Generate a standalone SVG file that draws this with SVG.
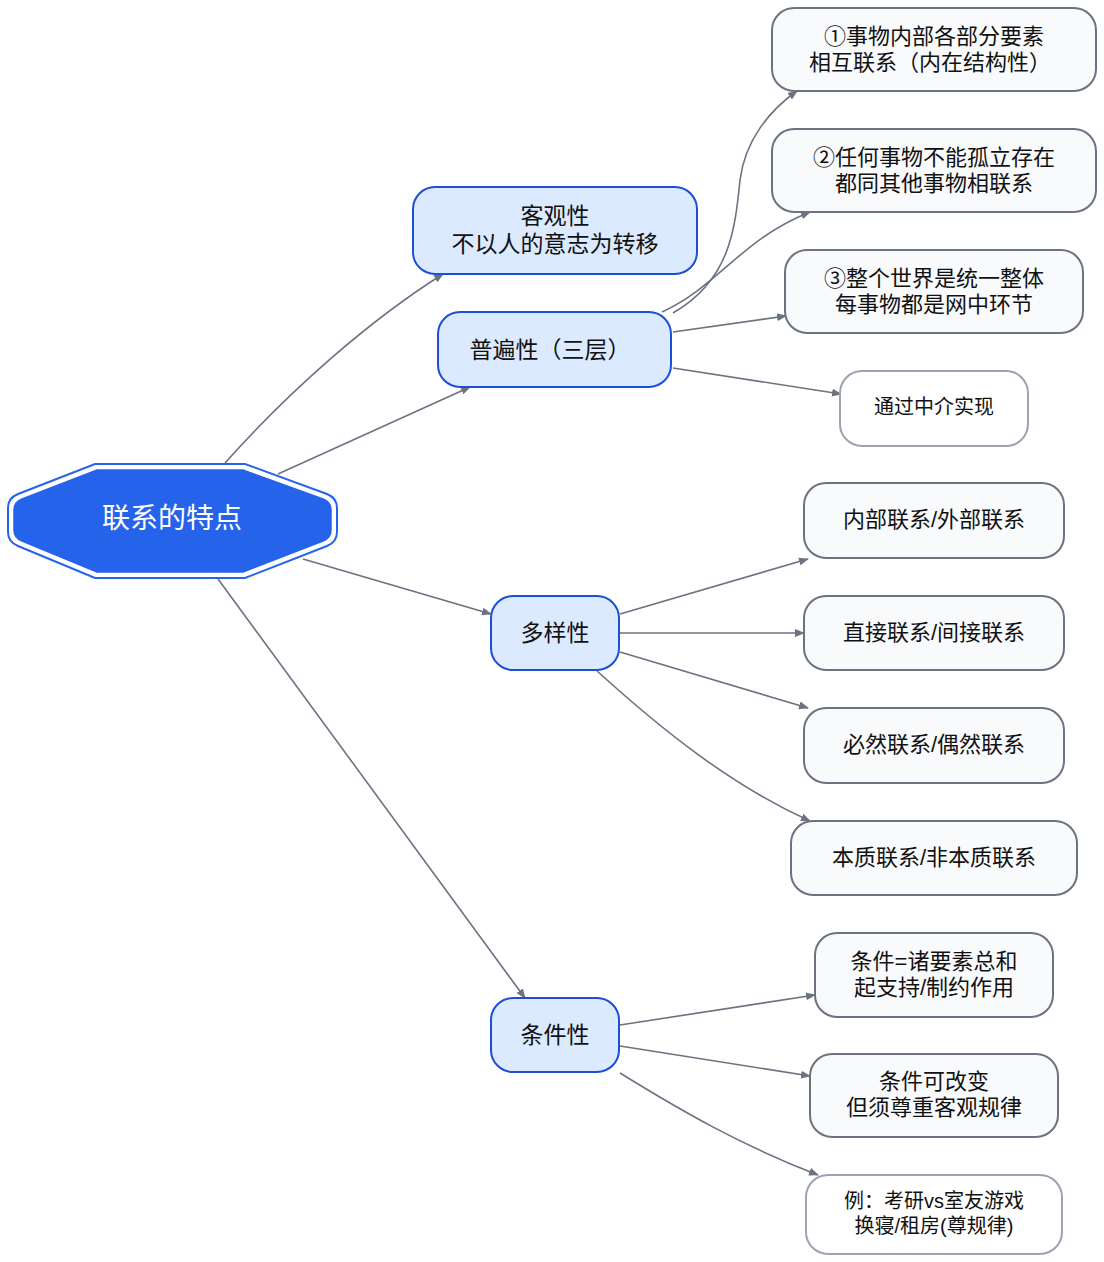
<svg xmlns="http://www.w3.org/2000/svg" width="1104" height="1262" viewBox="0 0 1104 1262">
<style>
text{font-family:"Liberation Sans","Noto Sans CJK SC",sans-serif;text-anchor:middle;fill:#111}
.mid rect{fill:#dbeafe;stroke:#1d4ed8;stroke-width:2}
.mid text{font-size:23px}
.leaf rect{fill:#f8fafc;stroke:#6b7280;stroke-width:2}
.leaf text{font-size:22px}
.lite rect{fill:#fff;stroke:#9ca3af;stroke-width:2}
.lite text{font-size:20px}
#edges path{fill:none;stroke:#6b7280;stroke-width:1.6;marker-end:url(#ar)}
</style>
<defs><marker id="ar" viewBox="0 0 10 10" refX="9" refY="5" markerWidth="10" markerHeight="10" markerUnits="userSpaceOnUse" orient="auto"><path d="M0,1 L10,5 L0,9 z" fill="#6b7280"/></marker></defs>
<g id="edges">
<path d="M225,463 C290,390 370,320 443,274"/>
<path d="M278,474 L470,387"/>
<path d="M303,559 L491,614"/>
<path d="M218,579 L525,998"/>
<path d="M673,313 C730,280 735,230 740,180 C745,140 770,110 797,91"/>
<path d="M662,312 C720,285 740,240 810,212"/>
<path d="M673,332 L786,316"/>
<path d="M673,368 L841,394"/>
<path d="M620,614 L808,559"/>
<path d="M620,633 L804,633"/>
<path d="M620,652 L808,708"/>
<path d="M597,671 C660,728 730,785 810,821"/>
<path d="M620,1025 L815,995"/>
<path d="M620,1046 L810,1076"/>
<path d="M620,1073 C680,1110 740,1145 818,1175"/>
</g>
<g id="root">
<path d="M8,508 Q8,498 18,494 L95,464 L245,464 L327,494 Q337,498 337,508 L337,532 Q337,542 327,546 L245,578 L95,578 L18,546 Q8,542 8,532 Z" fill="#fff" stroke="#2563eb" stroke-width="2"/>
<path d="M14,510 Q14,502 22,499 L97,470 L243,470 L323,499 Q331,502 331,510 L331,530 Q331,538 323,541 L243,572 L97,572 L22,541 Q14,538 14,530 Z" fill="#2563eb" stroke="#2563eb" stroke-width="1.5"/>
<text x="172" y="528" style="font-size:28px;fill:#fff">联系的特点</text>
</g>
<g id="n1" class="mid"><rect x="413" y="187" width="284" height="87" rx="22"/><text x="555" y="224">客观性</text><text x="555" y="252">不以人的意志为转移</text></g>
<g id="n2" class="mid"><rect x="438" y="312" width="233" height="75" rx="22"/><text x="550" y="358">普遍性（三层）</text></g>
<g id="n3" class="mid"><rect x="491" y="596" width="128" height="74" rx="22"/><text x="555" y="641">多样性</text></g>
<g id="n4" class="mid"><rect x="491" y="998" width="128" height="74" rx="22"/><text x="555" y="1043">条件性</text></g>
<g id="l1" class="leaf"><rect x="772" y="8" width="324" height="83" rx="22"/><text x="934" y="44">①事物内部各部分要素</text><text x="930" y="70">相互联系（内在结构性）</text></g>
<g id="l2" class="leaf"><rect x="772" y="129" width="324" height="83" rx="22"/><text x="934" y="165">②任何事物不能孤立存在</text><text x="934" y="191">都同其他事物相联系</text></g>
<g id="l3" class="leaf"><rect x="785" y="250" width="298" height="83" rx="22"/><text x="934" y="286">③整个世界是统一整体</text><text x="934" y="312">每事物都是网中环节</text></g>
<g id="l4" class="lite"><rect x="840" y="371" width="188" height="75" rx="22"/><text x="934" y="414">通过中介实现</text></g>
<g id="l5" class="leaf"><rect x="804" y="483" width="260" height="75" rx="22"/><text x="934" y="527">内部联系/外部联系</text></g>
<g id="l6" class="leaf"><rect x="804" y="596" width="260" height="74" rx="22"/><text x="934" y="640">直接联系/间接联系</text></g>
<g id="l7" class="leaf"><rect x="804" y="708" width="260" height="75" rx="22"/><text x="934" y="752">必然联系/偶然联系</text></g>
<g id="l8" class="leaf"><rect x="791" y="821" width="286" height="74" rx="22"/><text x="934" y="865">本质联系/非本质联系</text></g>
<g id="l9" class="leaf"><rect x="815" y="933" width="238" height="84" rx="22"/><text x="934" y="969">条件=诸要素总和</text><text x="934" y="995">起支持/制约作用</text></g>
<g id="l10" class="leaf"><rect x="810" y="1054" width="248" height="83" rx="22"/><text x="934" y="1089">条件可改变</text><text x="934" y="1115">但须尊重客观规律</text></g>
<g id="l11" class="lite"><rect x="806" y="1175" width="256" height="79" rx="22"/><text x="934" y="1208">例：考研vs室友游戏</text><text x="934" y="1233">换寝/租房(尊规律)</text></g>
</svg>
